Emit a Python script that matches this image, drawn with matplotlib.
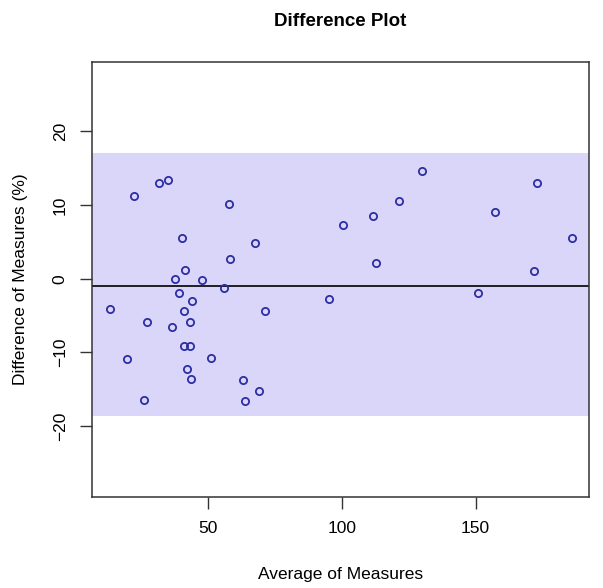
import matplotlib.pyplot as plt
import numpy as np

plt.rcParams['font.family'] = ['Liberation Sans', 'DejaVu Sans']

# average and difference of measures
avg = [22.3, 31.7, 34.9, 57.6, 40.3, 67.5, 58.1, 41.4, 37.6, 47.8,
       56.0, 39.2, 44.0, 13.1, 40.8, 71.2, 27.2, 43.0, 36.4, 40.8,
       43.0, 19.6, 51.1, 41.9, 43.5, 63.1, 69.1, 26.1, 63.6,
       130.0, 172.9, 121.2, 157.3, 111.6, 100.5, 186.0, 112.6, 171.9,
       150.8, 95.3]
diff = [11.2, 13.0, 13.4, 10.1, 5.5, 4.9, 2.7, 1.15, 0.0, -0.2,
        -1.2, -2.0, -3.0, -4.1, -4.4, -4.4, -5.8, -5.9, -6.5, -9.1,
        -9.1, -10.9, -10.7, -12.2, -13.6, -13.8, -15.2, -16.4, -16.6,
        14.6, 13.0, 10.6, 9.1, 8.5, 7.3, 5.5, 2.1, 1.0,
        -2.0, -2.8]

mean_diff = -1.0
upper = 17.0
lower = -18.66

fig = plt.figure(figsize=(6.03, 5.88), dpi=100)
ax = fig.add_axes([0.1526, 0.1548, 0.8242, 0.7398])

ax.axhspan(lower, upper, color='#d9d6fa', lw=0, zorder=0)
ax.axhline(mean_diff, color='black', lw=1.2, zorder=1)
ax.plot(avg, diff, 'o', mfc='none', mec='#2e2ea3', ms=5.2, mew=1.3, zorder=2)

ax.set_xlim(6.5, 192.4)
ax.set_ylim(-29.6, 29.4)
ax.set_xticks([50, 100, 150])
ax.set_yticks([-20, -10, 0, 10, 20])
ax.tick_params(labelsize=12.5, length=8.5, width=1.0, pad=9, color='#333333')
for lab in ax.get_yticklabels():
    lab.set_rotation(90)
    lab.set_va('center')
for s in ax.spines.values():
    s.set_linewidth(1.1)
    s.set_color('#333333')

ax.set_xlabel('Average of Measures', fontsize=12.5, labelpad=22)
ax.set_ylabel('Difference of Measures (%)', fontsize=12.5, labelpad=18)
ax.set_title('Difference Plot', fontsize=13.5, fontweight='bold', pad=26)

fig.savefig('out.png', dpi=100)
